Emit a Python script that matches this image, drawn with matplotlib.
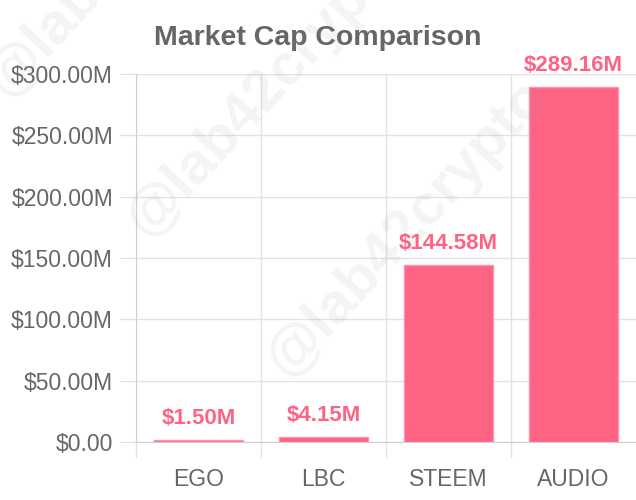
import matplotlib
matplotlib.use("Agg")
import matplotlib.pyplot as plt
from matplotlib.ticker import FuncFormatter, FixedLocator

plt.rcParams["font.family"] = ["Liberation Sans", "DejaVu Sans"]

coins = ["EGO", "LBC", "STEEM", "AUDIO"]
market_cap = [1.50e6, 4.15e6, 144.58e6, 289.16e6]
value_labels = ["$1.50M", "$4.15M", "$144.58M", "$289.16M"]
y_ticks = [0, 50e6, 100e6, 150e6, 200e6, 250e6, 300e6]

BAR = "#ff6384"
EDGE = "#ff93aa"
TEXT = "#666666"
GRID = "#e2e2e2"


def money(v, pos):
    if v == 0:
        return "$0.00"
    return f"${v / 1e6:.2f}M"


fig = plt.figure(figsize=(6.36, 5.00), dpi=100)
ax = fig.add_axes([136 / 636, 58 / 500, 500 / 636, 368 / 500])

x = list(range(len(coins)))
ax.bar(x, market_cap, width=0.71, color=BAR, edgecolor=EDGE, linewidth=1, zorder=3)

for i, (v, lab) in enumerate(zip(market_cap, value_labels)):
    ax.annotate(lab, (i, v), xytext=(0, 8), textcoords="offset points",
                ha="center", va="bottom", color=BAR, fontsize=16,
                fontweight="bold", zorder=4)

ax.set_xlim(-0.5, len(coins) - 0.5)
ax.set_ylim(0, 300e6)

ax.set_xticks(x)
ax.set_xticklabels(coins)
ax.xaxis.set_minor_locator(FixedLocator([-0.5, 0.5, 1.5, 2.5]))
ax.set_yticks(y_ticks)
ax.yaxis.set_major_formatter(FuncFormatter(money))

ax.tick_params(axis="x", which="major", length=0, pad=19, labelsize=16.5, labelcolor=TEXT)
ax.tick_params(axis="x", which="minor", length=11.5, color=GRID, width=1)
ax.tick_params(axis="y", length=11.5, color=GRID, width=1, pad=5, labelsize=16.5, labelcolor=TEXT)

ax.grid(axis="x", which="minor", color=GRID, linewidth=1, zorder=0)
ax.grid(axis="y", which="major", color=GRID, linewidth=1, zorder=0)

for s in ["top", "right"]:
    ax.spines[s].set_visible(False)
ax.spines["left"].set_color("#cfcfcf")
ax.spines["bottom"].set_color("#cfcfcf")

fig.text(0.5, 1 - 38 / 500, "Market Cap Comparison", ha="center", va="center",
         fontsize=20.5, fontweight="bold", color=TEXT)

# watermark
for cx, cy in [(127, -52), (267, 88), (407, 228)]:
    fig.text(cx / 636, 1 - cy / 500, "@lab42crypto", ha="center", va="center",
             rotation=47, rotation_mode="anchor", fontsize=42, fontweight="bold",
             color="#999999", alpha=0.11, zorder=10)

fig.savefig("out.png", dpi=100)
